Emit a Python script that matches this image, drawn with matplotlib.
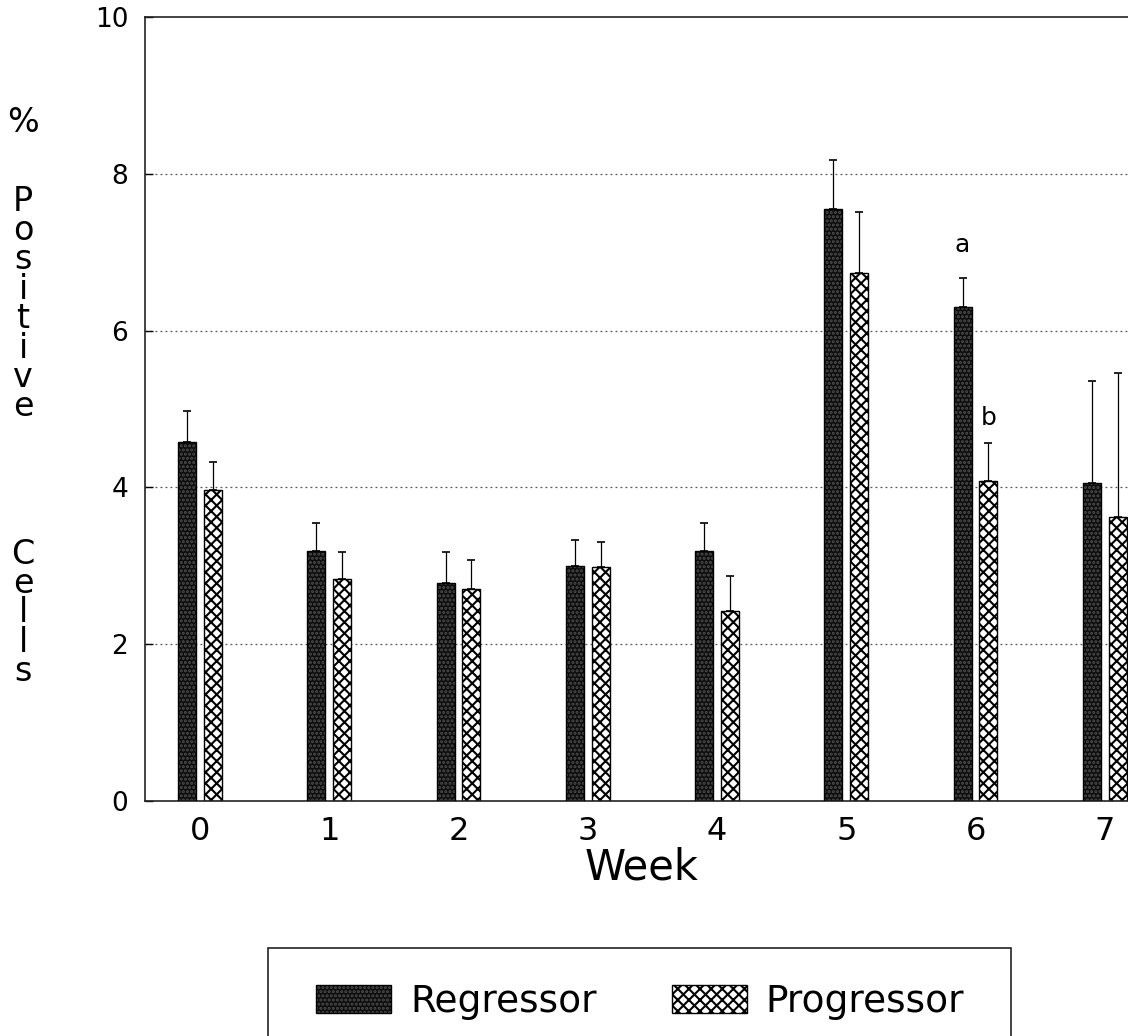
#!/usr/bin/env python3
"""
Percent positive cells per week, regressor vs progressor bars with upper error bars.
Saves out.png.
"""
import numpy as np
import matplotlib
matplotlib.use('Agg')  # headless
import matplotlib.pyplot as plt
from matplotlib.patches import Patch, Rectangle

# data
weeks = ['0', '1', '2', '3', '4', '5', '6', '7']
regressor = [4.58, 3.19, 2.78, 3.00, 3.19, 7.55, 6.30, 4.06]
regressor_err = [0.39, 0.36, 0.39, 0.33, 0.36, 0.62, 0.37, 1.30]
progressor = [3.97, 2.83, 2.71, 2.99, 2.42, 6.73, 4.08, 3.62]
progressor_err = [0.36, 0.34, 0.36, 0.31, 0.45, 0.78, 0.49, 1.84]
y_ticks = [0, 2, 4, 6, 8, 10]
letters = [('a', 6, 'regressor', 7.09), ('b', 6, 'progressor', 4.88)]

plt.rcParams['font.family'] = 'DejaVu Sans'
plt.rcParams['hatch.linewidth'] = 1.5

W, H = 1128, 1036
fig = plt.figure(figsize=(W / 100, H / 100), dpi=100)
ax = fig.add_axes([145 / W, 1 - 801 / H, 1 - 145 / W, (801 - 17) / H])

x = np.arange(len(weeks))
off = 0.10
bw = 0.14

# regressor: near-black fill with small grey dots, black outline on top
reg_fill = dict(facecolor='#0d0d0d', edgecolor='#4e4e4e', hatch='....', linewidth=0)
ax.bar(x - off, regressor, bw, zorder=2, **reg_fill)
ax.bar(x - off, regressor, bw, fill=False, edgecolor='black', linewidth=1.0, zorder=3)
# progressor: white with black cross hatch
pro_fill = dict(facecolor='white', edgecolor='black', hatch='xxx', linewidth=1.0)
ax.bar(x + off, progressor, bw, zorder=2, **pro_fill)

zeros = np.zeros(len(weeks))
ax.errorbar(x - off, regressor, yerr=[zeros, regressor_err], fmt='none',
            ecolor='black', elinewidth=0.9, capsize=3, capthick=1.2, zorder=1)
ax.errorbar(x + off, progressor, yerr=[zeros, progressor_err], fmt='none',
            ecolor='black', elinewidth=0.9, capsize=3, capthick=1.2, zorder=1)

for txt, wk, grp, yv in letters:
    xx = wk - off if grp == 'regressor' else wk + off
    ax.text(xx, yv, txt, ha='center', va='center', fontsize=18)

ax.set_xlim(-0.4255, 7.18)
ax.set_ylim(0, 10)
ax.set_yticks(y_ticks)
ax.set_yticklabels([str(t) for t in y_ticks], fontsize=19)
ax.set_xticks(x)
ax.set_xticklabels(weeks, fontsize=23)
ax.tick_params(axis='y', direction='in', length=6, width=1, pad=12)
ax.tick_params(axis='x', length=0, pad=11)

for yv in y_ticks[1:-1]:
    ax.axhline(yv, color='#555555', linestyle=(0, (1.5, 2.5)), linewidth=0.9, zorder=0)

ax.spines['right'].set_visible(False)
for s in ['left', 'top', 'bottom']:
    ax.spines[s].set_linewidth(1.2)
    ax.spines[s].set_color('#222222')

fig.text(642 / W, 1 - 868 / H, 'Week', ha='center', va='center', fontsize=30)

# stacked y label, one letter per line
ylab_kw = dict(ha='center', va='center', fontsize=24, multialignment='center',
               linespacing=0.86)
fig.text(23 / W, 1 - 122 / H, '%', **ylab_kw)
fig.text(23 / W, 1 - 304 / H, '\n'.join('Positive'), **ylab_kw)
fig.text(23 / W, 1 - 613 / H, '\n'.join('Cells'), **ylab_kw)

# legend box runs off the bottom of the page
fig.patches.append(Rectangle((268 / W, -0.1), (1011 - 268) / W, (1036 - 948) / H + 0.1,
                             transform=fig.transFigure, fill=False,
                             edgecolor='#222222', linewidth=1.2))
h_reg = (Patch(**reg_fill), Patch(fill=False, edgecolor='black', linewidth=1.0))
h_pro = Patch(**pro_fill)
fig.legend([h_reg, h_pro], ['Regressor', 'Progressor'], loc='center',
           bbox_to_anchor=(640 / W, 1 - 1002 / H), ncol=2, frameon=False,
           fontsize=27, handlelength=2.0, handleheight=0.75,
           handletextpad=0.5, columnspacing=2.0)

plt.savefig('out.png', dpi=100)
